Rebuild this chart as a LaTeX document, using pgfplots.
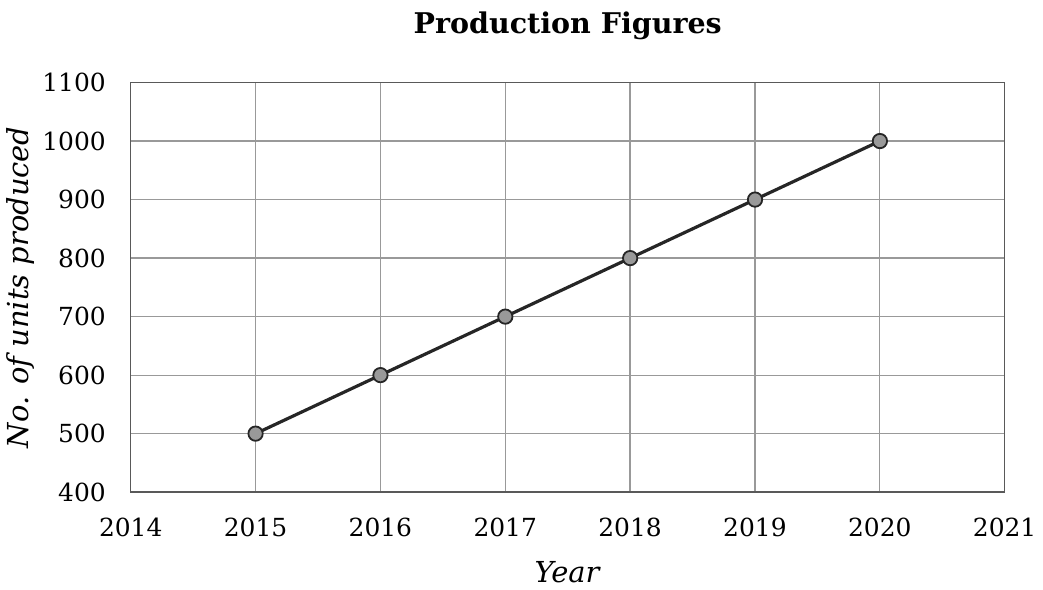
\documentclass[border={0pt 0pt 0pt 2.5pt}]{standalone}
\usepackage{fontspec}
\setmainfont{DejaVu Serif}
\usepackage{pgfplots}
\pgfplotsset{compat=1.18}
\begin{document}
\begin{tikzpicture}
\begin{axis}[
  width=438.5pt, height=205.5pt, scale only axis,
  xmin=2014, xmax=2021, ymin=400, ymax=1100,
  xtick={2014,...,2021}, ytick={400,500,...,1100},
  /pgf/number format/assume math mode=true,
  xticklabel style={/pgf/number format/1000 sep={}, yshift=-9.5pt},
  yticklabel style={/pgf/number format/1000 sep={}, xshift=-9pt},
  ticklabel style={font=\fontsize{12.5}{14}\selectfont},
  major tick length=0pt,
  grid=major, grid style={gray!80, line width=0.6pt},
  axis line style={gray!70!black, line width=0.7pt},
  title={\textbf{Production Figures}},
  title style={font=\fontsize{14.3}{17}\selectfont, yshift=12pt},
  xlabel={\textit{Year}}, ylabel={\textit{No. of units produced}},
  label style={font=\fontsize{14.5}{17}\selectfont},
  xlabel style={yshift=-5.5pt},
  ylabel style={yshift=-3pt},
]
\addplot[black!85, line width=1.6pt, mark=*, mark size=3.6pt,
  mark options={fill=gray!80, draw=black!85, line width=0.9pt}]
  coordinates {(2015,500) (2016,600) (2017,700) (2018,800) (2019,900) (2020,1000)};
\end{axis}
\end{tikzpicture}
\end{document}
